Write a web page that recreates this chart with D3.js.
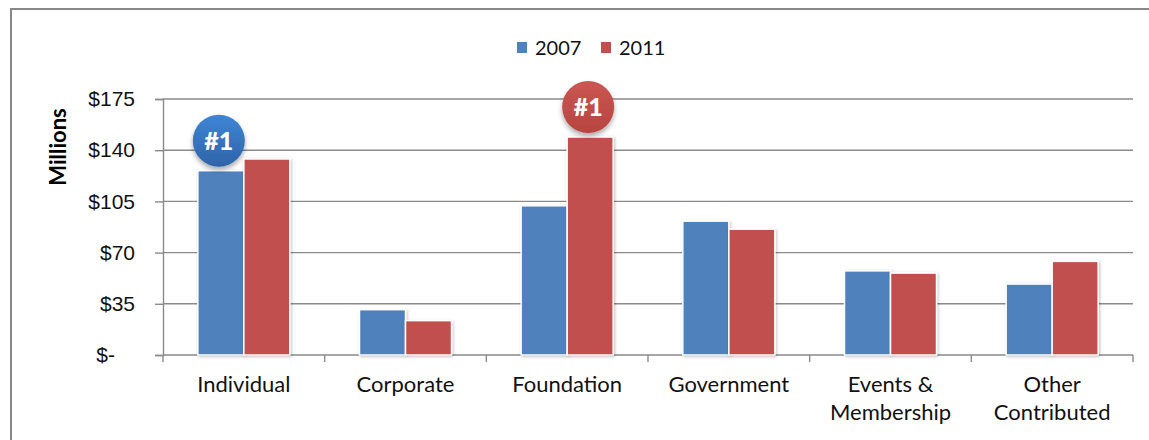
<!DOCTYPE html>
<html>
<head>
<meta charset="utf-8">
<script src="https://cdn.jsdelivr.net/npm/d3@7"></script>
<style>
	body { margin: 0; background: #fff; }
	svg { display: block; font-family: Lato, "Open Sans", sans-serif; }
</style>
</head>
<body>
<script>
// chart data
var categories = ["Individual", "Corporate", "Foundation", "Government", "Events &\nMembership", "Other\nContributed"];
var seriesNames = ["2007", "2011"];
var values2007 = [126, 31, 102, 91.5, 57.5, 48.5];
var values2011 = [134, 23.5, 149, 86, 56, 64];
var yTicks = [0, 35, 70, 105, 140, 175];
var badges = [
	{ category: "Individual", series: "2007", label: "#1" },
	{ category: "Foundation", series: "2011", label: "#1" }
];

document.addEventListener("DOMContentLoaded", function(event) {

	var width = 1149, height = 440;
	var plot = { left: 163, right: 1133, top: 99, bottom: 355 };
	var colors = { "2007": "#4f81bd", "2011": "#c0504d" };
	var valuesBy = { "2007": values2007, "2011": values2011 };

	var svg = d3.select("body").append("svg")
		.attr("width", width)
		.attr("height", height);

	var defs = svg.append("defs");
	var barShadow = defs.append("filter").attr("id", "barShadow")
		.attr("x", "-20%").attr("y", "-10%").attr("width", "140%").attr("height", "120%");
	barShadow.append("feDropShadow")
		.attr("dx", 1).attr("dy", 1).attr("stdDeviation", 1.5)
		.attr("flood-color", "#000").attr("flood-opacity", 0.25);

	var badgeShadow = defs.append("filter").attr("id", "badgeShadow")
		.attr("x", "-30%").attr("y", "-30%").attr("width", "160%").attr("height", "170%");
	badgeShadow.append("feDropShadow")
		.attr("dx", 0).attr("dy", 3).attr("stdDeviation", 2.5)
		.attr("flood-color", "#000").attr("flood-opacity", 0.35);

	var gradStops = {
		"2007": ["#3f86d6", "#2f63a8"],
		"2011": ["#cb5653", "#b5453f"]
	};
	seriesNames.forEach(function(s) {
		var g = defs.append("linearGradient").attr("id", "grad" + s)
			.attr("x1", 0).attr("y1", 0).attr("x2", 0).attr("y2", 1);
		g.append("stop").attr("offset", "0%").attr("stop-color", gradStops[s][0]);
		g.append("stop").attr("offset", "100%").attr("stop-color", gradStops[s][1]);
	});

	// outer frame
	svg.append("rect")
		.attr("x", 11).attr("y", 9)
		.attr("width", width + 20).attr("height", height + 20)
		.attr("fill", "none")
		.attr("stroke", "#878787")
		.attr("stroke-width", 2);

	// scales
	var x0 = d3.scaleBand()
		.domain(categories)
		.range([plot.left, plot.right])
		.padding(0);

	var x1 = d3.scaleBand()
		.domain(seriesNames)
		.range([0, x0.bandwidth()])
		.paddingInner(0)
		.paddingOuter(0.757);

	var y = d3.scaleLinear()
		.domain([0, 175])
		.range([plot.bottom, plot.top]);

	// gridlines
	svg.append("g")
		.selectAll("line")
		.data(yTicks.filter(function(d) { return d > 0; }))
		.enter().append("line")
		.attr("x1", plot.left).attr("x2", plot.right)
		.attr("y1", function(d) { return y(d); })
		.attr("y2", function(d) { return y(d); })
		.attr("stroke", "#8a8a8a")
		.attr("stroke-width", 1.4);

	// y axis
	var yAxis = svg.append("g")
		.attr("transform", "translate(" + plot.left + ",0)")
		.call(d3.axisLeft(y)
			.tickValues(yTicks)
			.tickSize(8)
			.tickPadding(20)
			.tickFormat(function(d) { return d === 0 ? "$-" : "$" + d; }));
	yAxis.select(".domain").attr("stroke", "#8a8a8a").attr("stroke-width", 1.4);
	yAxis.selectAll(".tick line").attr("stroke", "#8a8a8a").attr("stroke-width", 1.4);
	yAxis.selectAll(".tick text")
		.attr("fill", "#111")
		.style("font-size", "21px")
		.attr("dx", function(d) { return d === 0 ? -20 : 0; });

	// y title
	svg.append("text")
		.attr("transform", "translate(66,147) rotate(-90)")
		.attr("text-anchor", "middle")
		.style("font-size", "22px")
		.style("font-weight", "bold")
		.attr("fill", "#000")
		.text("Millions");

	// x axis line + category separators
	var xAxisG = svg.append("g");
	xAxisG.append("line")
		.attr("x1", plot.left).attr("x2", plot.right)
		.attr("y1", plot.bottom).attr("y2", plot.bottom)
		.attr("stroke", "#8a8a8a").attr("stroke-width", 1.4);
	var seps = categories.map(function(c) { return x0(c); }).concat([plot.right]);
	xAxisG.selectAll("line.sep")
		.data(seps)
		.enter().append("line")
		.attr("class", "sep")
		.attr("x1", function(d) { return d; })
		.attr("x2", function(d) { return d; })
		.attr("y1", plot.bottom).attr("y2", plot.bottom + 7)
		.attr("stroke", "#8a8a8a").attr("stroke-width", 1.4);

	// category labels
	var labels = svg.append("g").selectAll("text")
		.data(categories)
		.enter().append("text")
		.attr("text-anchor", "middle")
		.attr("x", function(d) { return x0(d) + x0.bandwidth() / 2; })
		.attr("y", 392)
		.attr("fill", "#111")
		.style("font-size", "22px");
	labels.each(function(d) {
		var el = d3.select(this);
		d.split("\n").forEach(function(line, i) {
			el.append("tspan")
				.attr("x", x0(d) + x0.bandwidth() / 2)
				.attr("dy", i === 0 ? 0 : 28)
				.text(line);
		});
	});

	// bars
	var groups = svg.append("g").selectAll("g")
		.data(categories)
		.enter().append("g")
		.attr("transform", function(d) { return "translate(" + x0(d) + ",0)"; });

	groups.selectAll("rect")
		.data(function(d, i) {
			return seriesNames.map(function(s) {
				return { series: s, value: valuesBy[s][i] };
			});
		})
		.enter().append("rect")
		.attr("x", function(d) { return x1(d.series); })
		.attr("y", function(d) { return y(d.value); })
		.attr("width", x1.bandwidth())
		.attr("height", function(d) { return plot.bottom - y(d.value); })
		.attr("fill", function(d) { return colors[d.series]; })
		.attr("stroke", "#fff")
		.attr("stroke-width", 1.5)
		.attr("filter", "url(#barShadow)");

	// "#1" badges
	var r = 26;
	var badgeG = svg.append("g").selectAll("g")
		.data(badges)
		.enter().append("g")
		.attr("transform", function(d) {
			var i = categories.indexOf(d.category);
			var cx = x0(d.category) + x1(d.series) + x1.bandwidth() / 2 - 2;
			var cy = y(valuesBy[d.series][i]) - r - 4;
			return "translate(" + cx + "," + cy + ")";
		});
	badgeG.append("circle")
		.attr("r", r)
		.attr("fill", function(d) { return "url(#grad" + d.series + ")"; })
		.attr("filter", "url(#badgeShadow)");
	badgeG.append("text")
		.attr("text-anchor", "middle")
		.attr("dy", "0.36em")
		.attr("fill", "#fff")
		.style("font-size", "25px")
		.style("font-weight", "900")
		.text(function(d) { return d.label; });

	// legend
	var legendX = [517, 601];
	var legend = svg.append("g").selectAll("g")
		.data(seriesNames)
		.enter().append("g")
		.attr("transform", function(d, i) { return "translate(" + legendX[i] + ",0)"; });
	legend.append("rect")
		.attr("x", 0).attr("y", 42)
		.attr("width", 10).attr("height", 11)
		.attr("fill", function(d) { return colors[d]; });
	legend.append("text")
		.attr("x", 18).attr("y", 55)
		.attr("fill", "#111")
		.style("font-size", "20px")
		.text(function(d) { return d; });
});
</script>
</body>
</html>
